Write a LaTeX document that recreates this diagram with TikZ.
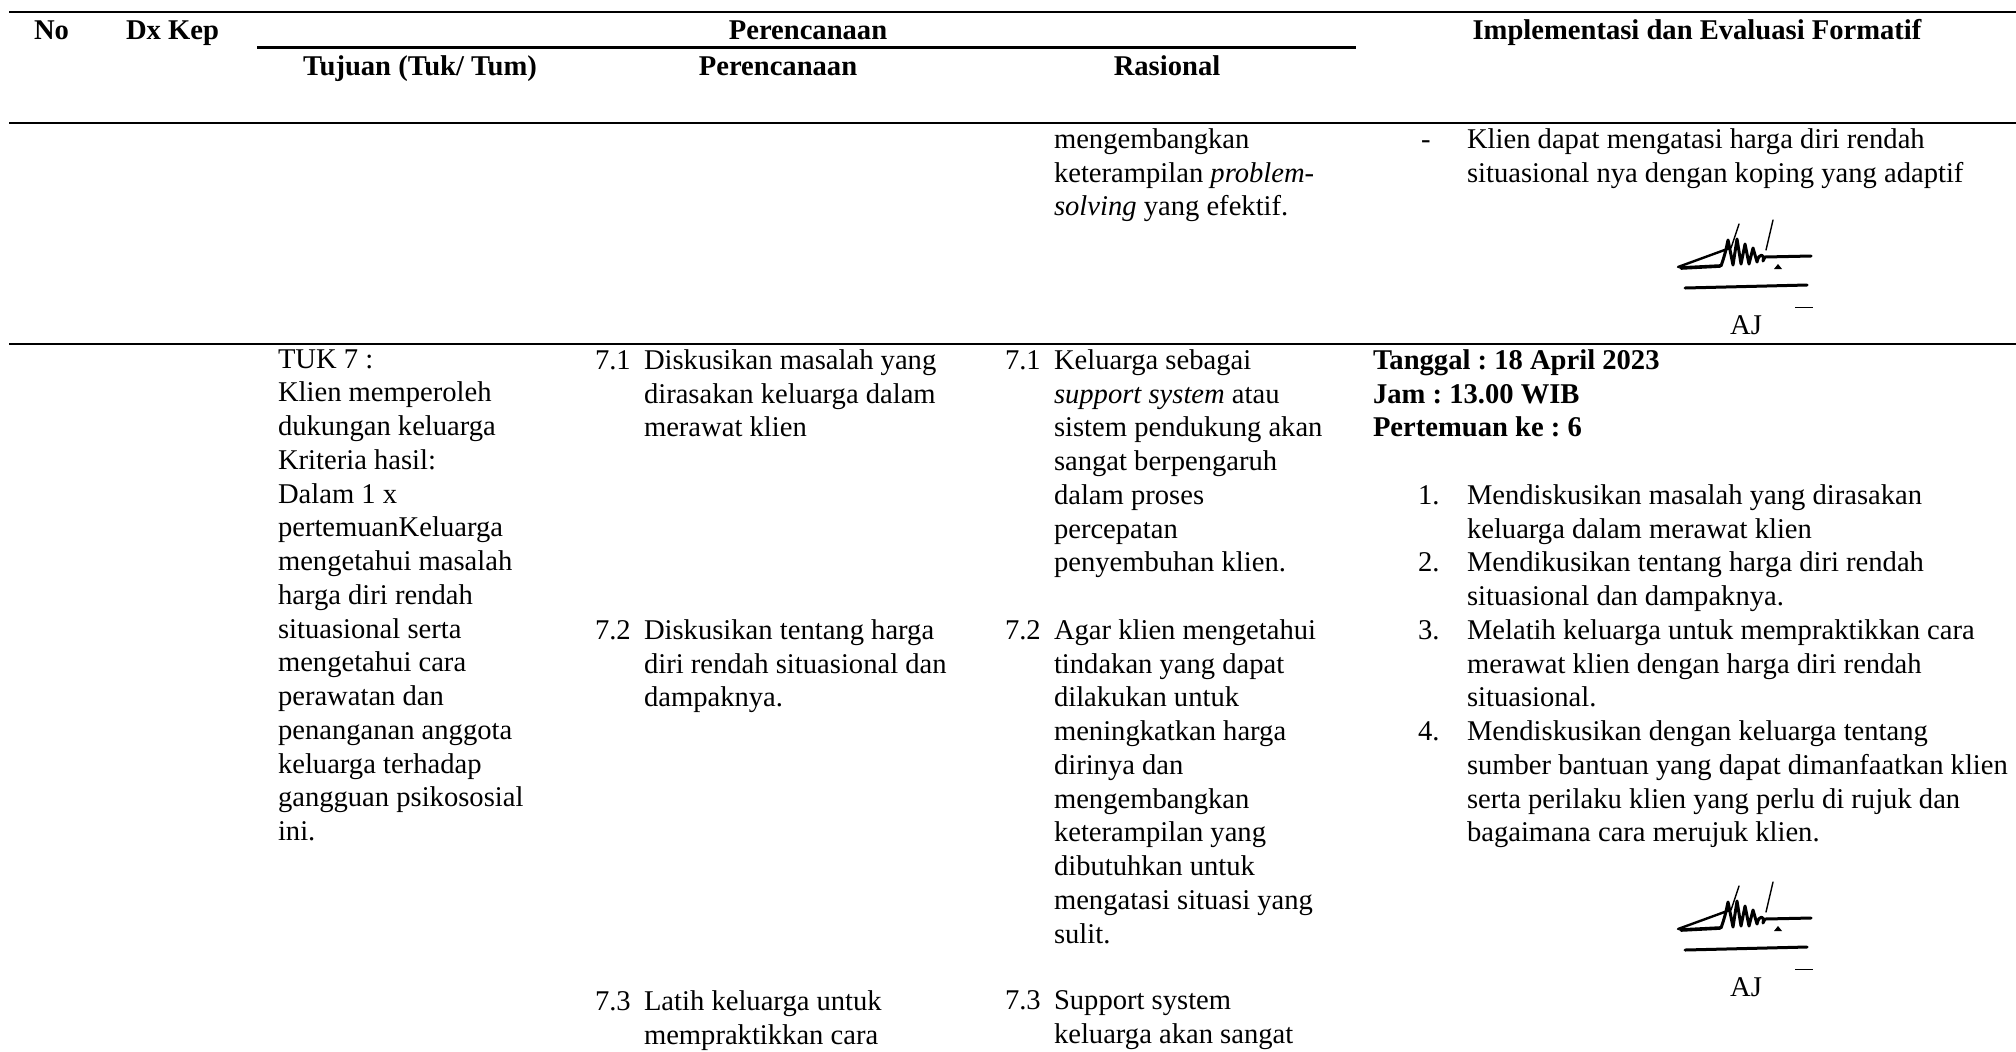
\documentclass[tikz,border=0pt]{standalone}
\usepackage{fontspec}
\setmainfont{Liberation Serif}
\frenchspacing
\newcommand{\numat}[1]{\makebox[24.5pt][l]{#1}}
\newcommand{\indat}{\hspace*{24.5pt}}
\begin{document}
\begin{tikzpicture}[x=0.5pt,y=-0.5pt,
  txt/.style={inner sep=0pt, outer sep=0pt, align=left, anchor=north west,
    font=\fontsize{14.3}{16.875}\selectfont\frenchspacing, execute at begin node=\strut},
  hd/.style={inner sep=0pt, outer sep=0pt, anchor=base,
    font=\fontsize{14.3}{16.875}\selectfont\bfseries},
  hdl/.style={hd, anchor=base west},
  rule/.style={line width=1.4pt},
  sigstroke/.style={line width=1pt, line join=round, line cap=round},
  sig/.pic={
    \draw[sigstroke, line width=1.2pt] (-67,-61) -- (-15,-80);
    \draw[sigstroke, line width=1.8pt] (-64,-60) -- (-25,-62);
    \draw[sigstroke, line width=1.5pt] (-24,-62) .. controls (-20,-74) .. (-17,-88)
      -- (-12,-63) .. controls (-10,-76) .. (-8,-89) -- (-4,-64)
      .. controls (-2,-74) .. (0,-84) -- (4,-64)
      .. controls (6,-72) .. (8,-80) -- (12,-66)
      .. controls (14,-76) and (20,-74) .. (18,-67) -- (20,-71) -- (66,-72);
    \draw[sigstroke, line width=0.7pt] (-6,-104) -- (-14,-80);
    \draw[sigstroke, line width=0.7pt] (28,-108) -- (21,-78);
    \fill (29,-59) -- (33,-64) -- (37,-59) -- cycle;
    \draw[line width=1.5pt, line cap=round] (-60,-40) -- (62,-43);
    \draw[line width=0.5pt] (50,-21) -- (68,-21);
  }
]
\useasboundingbox (0,0) rectangle (2016,1051);
\clip (0,0) rectangle (2016,1051);

% rules
\draw[rule] (9,12) -- (2016,12);
\draw[rule] (257,47.5) -- (1356,47.5);
\draw[rule] (9,123) -- (2016,123);
\draw[rule] (9,344) -- (2016,344);

% header
\node[hdl] (hno) at (34,39) {No};
\node[hdl] (hdx) at (126,39) {Dx Kep};
\node[hd] (hper) at (808,39) {Perencanaan};
\node[hd] (himp) at (1697,39) {Implementasi dan Evaluasi Formatif};
\node[hd] (htuj) at (420,75) {Tujuan (Tuk/ Tum)};
\node[hd] (hper2) at (778,75) {Perencanaan};
\node[hd] (hras) at (1167,75) {Rasional};

% row 1 (continuation)
\node[txt] (r1ras) at (1054,128.4) {mengembangkan\\ keterampilan \textit{problem-}\\ \textit{solving} yang efektif.};
\node[txt] (r1imp) at (1421,128.4) {\makebox[23pt][l]{-}Klien dapat mengatasi harga diri rendah\\ \hspace*{23pt}situasional nya dengan koping yang adaptif};
\pic at (1745,328) {sig};
\node[inner sep=0pt, anchor=base, font=\fontsize{14.3}{16.875}\selectfont] (aj1) at (1746,334) {AJ};

% row 2
\node[txt] (tuk) at (278,349.4) {TUK 7 :\\ Klien memperoleh\\ dukungan keluarga\\ Kriteria hasil:\\ Dalam 1 x\\ pertemuanKeluarga\\ mengetahui masalah\\ harga diri rendah\\ situasional serta\\ mengetahui cara\\ perawatan dan\\ penanganan anggota\\ keluarga terhadap\\ gangguan psikososial\\ ini.};

\node[txt] (p71) at (595,349.4) {\numat{7.1}Diskusikan masalah yang\\ \indat dirasakan keluarga dalam\\ \indat merawat klien};
\node[txt] (p72) at (595,619.4) {\numat{7.2}Diskusikan tentang harga\\ \indat diri rendah situasional dan\\ \indat dampaknya.};
\node[txt] (p73) at (595,990.6) {\numat{7.3}Latih keluarga untuk\\ \indat mempraktikkan cara};

\node[txt] (r71) at (1005,349.4) {\numat{7.1}Keluarga sebagai\\ \indat\textit{support system} atau\\ \indat sistem pendukung akan\\ \indat sangat berpengaruh\\ \indat dalam proses\\ \indat percepatan\\ \indat penyembuhan klien.};
\node[txt] (r72) at (1005,619.4) {\numat{7.2}Agar klien mengetahui\\ \indat tindakan yang dapat\\ \indat dilakukan untuk\\ \indat meningkatkan harga\\ \indat dirinya dan\\ \indat mengembangkan\\ \indat keterampilan yang\\ \indat dibutuhkan untuk\\ \indat mengatasi situasi yang\\ \indat sulit.};
\node[txt] (r73) at (1005,990.6) {\numat{7.3}Support system\\ \indat keluarga akan sangat};

\node[txt, font=\fontsize{14.3}{16.875}\selectfont\bfseries\frenchspacing] (imphead) at (1373,349.4) {Tanggal : 18 April 2023\\ Jam : 13.00 WIB\\ Pertemuan ke : 6};

\node[txt] (i1) at (1418,484.4) {\numat{1.}Mendiskusikan masalah yang dirasakan\\ \indat keluarga dalam merawat klien};
\node[txt] (i2) at (1418,551.9) {\numat{2.}Mendikusikan tentang harga diri rendah\\ \indat situasional dan dampaknya.};
\node[txt] (i3) at (1418,619.4) {\numat{3.}Melatih keluarga untuk mempraktikkan cara\\ \indat merawat klien dengan harga diri rendah\\ \indat situasional.};
\node[txt] (i4) at (1418,720.65) {\numat{4.}Mendiskusikan dengan keluarga tentang\\ \indat sumber bantuan yang dapat dimanfaatkan klien\\ \indat serta perilaku klien yang perlu di rujuk dan\\ \indat bagaimana cara merujuk klien.};

\pic at (1745,990) {sig};
\node[inner sep=0pt, anchor=base, font=\fontsize{14.3}{16.875}\selectfont] (aj2) at (1746,996) {AJ};
\end{tikzpicture}
\end{document}
